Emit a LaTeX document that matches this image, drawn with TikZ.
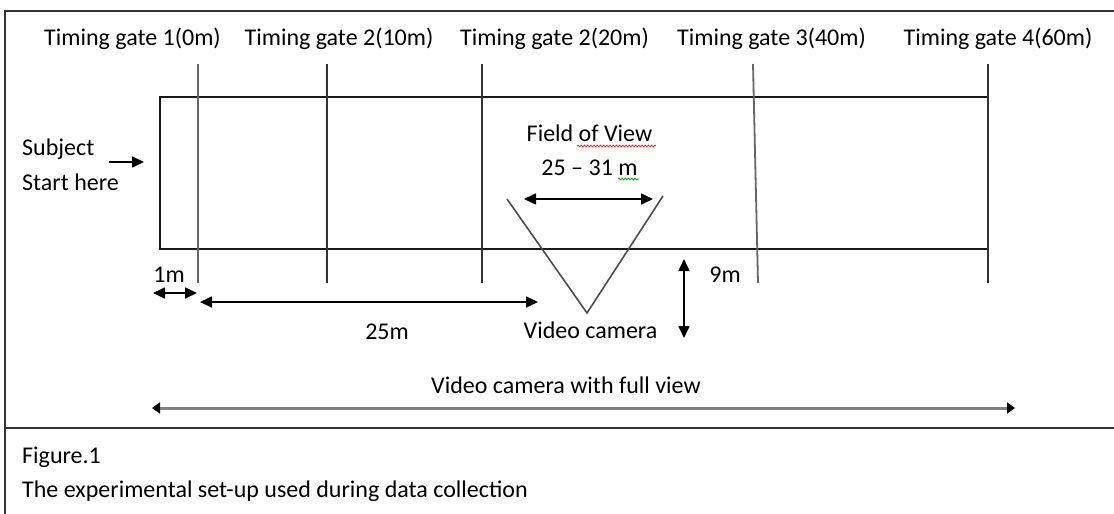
\documentclass[tikz,border=0pt]{standalone}
\usepackage{fontspec}
\setmainfont{Carlito}
\usetikzlibrary{arrows.meta,decorations.pathmorphing}
\begin{document}
\begin{tikzpicture}[x=1pt,y=-1pt,
  lbl/.style={inner sep=0pt,font=\fontsize{24}{28}\selectfont,anchor=base},
  lblw/.style={lbl,anchor=base west},
  frame/.style={line width=1.9pt,draw=black!80},
  track/.style={line width=1.8pt,draw=black!90},
  gate/.style={line width=1.8pt,draw=black!80},
  dim/.style={line width=1.7pt,{Triangle[length=12pt,width=11pt]}-{Triangle[length=12pt,width=11pt]}},
  onearrow/.style={line width=1.7pt,-{Triangle[length=12pt,width=11pt]}},
  fullview/.style={line width=3pt,draw=black!50,{Triangle[length=8pt,width=11pt,color=black]}-{Triangle[length=8pt,width=11pt,color=black]}},
  cone/.style={line width=1.6pt,draw=black!70},
  squiggle/.style={decorate,decoration={snake,segment length=3.2pt,amplitude=0.9pt},line width=0.8pt}]
\useasboundingbox (0,0) rectangle (1114,514);

% outer frame and caption divider
\coordinate (fBL) at (5,520);
\coordinate (fTL) at (5,11);
\coordinate (fTR) at (1120,11);
\coordinate (dL) at (5,428);
\coordinate (dR) at (1120,428);
\draw[frame] (fBL) -- (fTL) -- (fTR);
\draw[frame] (dL) -- (dR);

% gate labels
\node[lbl] (g1) at (132.5,45) {Timing gate 1(0m)};
\node[lbl] (g2) at (339,45) {Timing gate 2(10m)};
\node[lbl] (g3) at (554.5,45) {Timing gate 2(20m)};
\node[lbl] (g4) at (771.5,45) {Timing gate 3(40m)};
\node[lbl] (g5) at (998,45) {Timing gate 4(60m)};

% running lane
\coordinate (laneNW) at (160,97);
\coordinate (laneSE) at (988,249);
\draw[track] (laneNW) rectangle (laneSE);

% timing gates
\coordinate (t1) at (198,64);  \coordinate (b1) at (198,283);
\coordinate (t2) at (327,64);  \coordinate (b2) at (327,283);
\coordinate (t3) at (482,64);  \coordinate (b3) at (482,283);
\coordinate (t4) at (753,64);  \coordinate (b4) at (758,283);
\coordinate (t5) at (988,64);  \coordinate (b5) at (988,283);
\draw[gate,draw=black!60] (t1) -- (b1);
\draw[gate] (t2) -- (b2);
\draw[gate] (t3) -- (b3);
\draw[gate,draw=black!60] (t4) -- (b4);
\draw[gate] (t5) -- (b5);

% start position
\node[lblw] (subj) at (22,155) {Subject};
\node[lblw] (start) at (22,190) {Start here};
\coordinate (sA) at (109,162);
\coordinate (sB) at (144,162);
\draw[onearrow] (sA) -- (sB);

% distance markers
\node[lbl] (one) at (169,282) {1m};
\coordinate (oA) at (153,293);
\coordinate (oB) at (197,293);
\draw[dim] (oA) -- (oB);

\node[lbl] (tf) at (387,339) {25m};
\coordinate (tA) at (200,302);
\coordinate (tB) at (538,302);
\draw[dim] (tA) -- (tB);

% camera field of view
\node[lbl] (fov) at (589.5,141) {Field of View};
\node[lbl] (fovr) at (589.5,175) {25 -- 31 m};
\coordinate (sq1a) at (577,146); \coordinate (sq1b) at (656,146);
\coordinate (sq2a) at (618,179); \coordinate (sq2b) at (639,179);
\draw[squiggle,red!85] (sq1a) -- (sq1b);
\draw[squiggle,green!60!black] (sq2a) -- (sq2b);
\coordinate (vA) at (524,199);
\coordinate (vB) at (653,199);
\draw[dim] (vA) -- (vB);

\coordinate (cL) at (507,199);
\coordinate (cam) at (587,313);
\coordinate (cR) at (663,196);
\draw[cone] (cL) -- (cam) -- (cR);
\node[lbl] (camlbl) at (590.5,338) {Video camera};

% camera distance from lane
\coordinate (nA) at (684,259);
\coordinate (nB) at (684,338);
\draw[dim] (nA) -- (nB);
\node[lbl] (nine) at (725,282) {9m};

% full-view camera
\node[lbl] (full) at (566,393) {Video camera with full view};
\coordinate (wA) at (152,408);
\coordinate (wB) at (1015,408);
\draw[fullview] (wA) -- (wB);

% caption
\node[lblw] (fig) at (22,463) {Figure.1};
\node[lblw] (cap) at (22,497) {The experimental set-up used during data collection};
\end{tikzpicture}
\end{document}
